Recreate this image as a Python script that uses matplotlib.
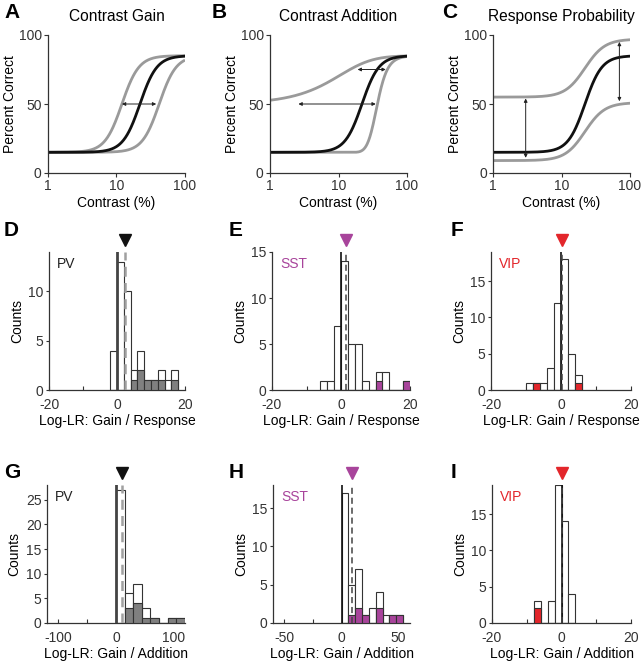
import matplotlib
matplotlib.use("Agg")
import matplotlib.pyplot as plt
import numpy as np

plt.rcParams.update({
    "font.family": ["Liberation Sans", "DejaVu Sans"],
    "font.size": 10,
    "axes.linewidth": 0.9,
    "axes.edgecolor": "#333333",
    "xtick.color": "#333333",
    "ytick.color": "#333333",
})

# ── Data: psychometric model parameters (top row) ─────────────────────────────
contrast = np.logspace(0, 2, 300)
base_black, top_black, c50_black, slope_black = 15, 85, 22, 3.5
gain_c50 = [12, 42]                 # contrast gain: shifted thresholds
addition_shift = [22, -15]          # contrast addition: added / removed contrast
resp_base = [55, 9]                 # response probability: lower asymptotes
resp_top = [97, 51]                 # response probability: upper asymptotes

# ── Data: histograms (counts per bin, coloured = highlighted subset) ─────────
d_start, d_width = -2, 2
d_counts = [4, 13, 10, 2, 4, 1, 1, 2, 1, 2]
d_sub = [0, 0, 0, 1, 2, 1, 1, 1, 0, 1]
d_median = 2.5

e_start, e_width = -6, 2
e_counts = [1, 1, 7, 14, 5, 5, 1, 0, 2, 2, 0, 0, 1]
e_sub = [0, 0, 0, 0, 0, 0, 0, 0, 1, 0, 0, 0, 1]
e_median = 1.5

f_start, f_width = -10, 2
f_counts = [1, 1, 1, 3, 12, 18, 5, 2]
f_sub = [0, 1, 0, 0, 0, 0, 0, 1]
f_median = 0.2

g_start, g_width = 0, 15
g_counts = [27, 6, 8, 3, 1, 0, 1, 1]
g_sub = [0, 3, 4, 1, 1, 0, 1, 1]
g_median = 10

h_start, h_width = 0, 6
h_counts = [17, 5, 7, 1, 2, 4, 1, 1, 1]
h_sub = [0, 1, 2, 1, 0, 2, 0, 1, 1]
h_median = 9

i_start, i_width = -8, 2
i_counts = [3, 0, 3, 19, 14, 4]
i_sub = [2, 0, 0, 0, 0, 0]
i_median = 0

PV_C, SST_C, VIP_C = "#808080", "#a8449b", "#e3262b"
GRAY = "#9a9a9a"
W, H = 642, 664


def ax_px(l, t, r, b):
    return fig.add_axes([l / W, 1 - b / H, (r - l) / W, (b - t) / H])


def psy(c, base, top, c50, n):
    c = np.clip(c, 1e-6, None)
    return base + (top - base) * c ** n / (c ** n + c50 ** n)


def style_top(ax, title):
    ax.set_xscale("log")
    ax.set_xlim(1, 100)
    ax.set_ylim(0, 100)
    ax.set_xticks([1, 10, 100])
    ax.set_xticklabels(["1", "10", "100"])
    ax.minorticks_off()
    ax.set_yticks([0, 50, 100])
    ax.tick_params(length=3, width=0.8, pad=1.5)
    for s in ["top", "right"]:
        ax.spines[s].set_visible(False)
    ax.set_xlabel("Contrast (%)", labelpad=2)
    ax.set_ylabel("Percent Correct", labelpad=1)
    ax.set_title(title, fontsize=11.2, pad=10)


def darrow(ax, x0, y0, x1, y1):
    ax.annotate("", xy=(x1, y1), xytext=(x0, y0),
                arrowprops=dict(arrowstyle="<|-|>", color="#222222", lw=0.7,
                                mutation_scale=5, shrinkA=0, shrinkB=0))


fig = plt.figure(figsize=(W / 100, H / 100), dpi=100)

# ── A: contrast gain ──────────────────────────────────────────────────────────
axA = ax_px(48, 35, 185, 173)
for c50 in gain_c50:
    axA.plot(contrast, psy(contrast, base_black, top_black, c50, slope_black),
             color=GRAY, lw=2, solid_capstyle="butt")
axA.plot(contrast, psy(contrast, base_black, top_black, c50_black, slope_black),
         color="#111111", lw=2)
darrow(axA, 12, 50, 38, 50)
style_top(axA, "Contrast Gain")

# ── B: contrast addition ──────────────────────────────────────────────────────
axB = ax_px(270, 35, 407, 173)
for sh in addition_shift:
    axB.plot(contrast, psy(contrast + sh, base_black, top_black, c50_black, slope_black),
             color=GRAY, lw=2)
axB.plot(contrast, psy(contrast, base_black, top_black, c50_black, slope_black),
         color="#111111", lw=2)
darrow(axB, 19, 75, 49, 75)
darrow(axB, 2.6, 50, 35, 50)
style_top(axB, "Contrast Addition")

# ── C: response probability ───────────────────────────────────────────────────
axC = ax_px(493, 35, 630, 173)
for b, t in zip(resp_base, resp_top):
    axC.plot(contrast, psy(contrast, b, t, c50_black, 3),
             color=GRAY, lw=2)
axC.plot(contrast, psy(contrast, base_black, top_black, c50_black, slope_black),
         color="#111111", lw=2)
darrow(axC, 3, 54, 3, 11)
darrow(axC, 70, 95, 70, 52)
style_top(axC, "Response Probability")


# ── Histograms ────────────────────────────────────────────────────────────────
def hist_panel(box, start, width, counts, sub, median, color, name,
               xlim, xticks, xlabels, ylim, yticks, xlabel, heavy):
    ax = ax_px(*box)
    left = start + width * np.arange(len(counts))
    ax.bar(left, counts, width=width, align="edge", color="white",
           edgecolor="#333333", linewidth=0.8, zorder=2)
    ax.bar(left, sub, width=width, align="edge", color=color,
           edgecolor="#333333", linewidth=0.8, zorder=3)
    if heavy:
        ax.axvline(0, color="#444444", lw=2, zorder=4)
        ax.axvline(median, color="#a0a0a0", lw=1.8, ls=(0, (4, 2.5)), zorder=5)
    else:
        ax.axvline(0, color="#111111", lw=1.2, zorder=4)
        ax.axvline(median, color="#444444", lw=1.1, ls=(0, (4, 2.5)), zorder=5)
    tri = "#111111" if color == PV_C else color
    ax.plot([median], [ylim * 1.085], marker="v", ms=9, color=tri,
            clip_on=False, zorder=6)
    ax.set_xlim(*xlim)
    ax.set_ylim(0, ylim)
    ax.set_xticks(xticks)
    ax.set_xticklabels(xlabels)
    ax.set_yticks(yticks)
    ax.tick_params(axis="x", direction="in", length=3, width=0.8, pad=6)
    ax.tick_params(axis="y", length=2.5, width=0.8, pad=1.5)
    for s in ["top", "right"]:
        ax.spines[s].set_visible(False)
    ax.text(0.06, 0.965, name, transform=ax.transAxes, ha="left", va="top",
            color="#222222" if color == PV_C else color, fontsize=10)
    ax.set_ylabel("Counts", labelpad=3)
    ax.set_xlabel(xlabel, labelpad=1.5)
    return ax


xl_r = "Log-LR: Gain / Response"
xl_a = "Log-LR: Gain / Addition"
t20 = [-20, -10, 0, 10, 20]
l20 = ["-20", "", "0", "", "20"]

hist_panel((49, 252, 185, 390), d_start, d_width, d_counts, d_sub, d_median, PV_C, "PV",
           (-20, 20), t20, l20, 14, [0, 5, 10], xl_r, True)
hist_panel((272, 252, 410, 390), e_start, e_width, e_counts, e_sub, e_median, SST_C, "SST",
           (-20, 20), t20, l20, 15, [0, 5, 10, 15], xl_r, False)
hist_panel((491, 252, 631, 390), f_start, f_width, f_counts, f_sub, f_median, VIP_C, "VIP",
           (-20, 20), t20, l20, 19, [0, 5, 10, 15], xl_r, False)
hist_panel((47, 485, 185, 623), g_start, g_width, g_counts, g_sub, g_median, PV_C, "PV",
           (-120, 120), [-100, -50, 0, 50, 100], ["-100", "", "0", "", "100"],
           28, [0, 5, 10, 15, 20, 25], xl_a, True)
hist_panel((273, 485, 410, 623), h_start, h_width, h_counts, h_sub, h_median, SST_C, "SST",
           (-60, 60), [-50, -25, 0, 25, 50], ["-50", "", "0", "", "50"],
           18, [0, 5, 10, 15], xl_a, False)
hist_panel((492, 485, 631, 623), i_start, i_width, i_counts, i_sub, i_median, VIP_C, "VIP",
           (-20, 20), t20, l20, 19, [0, 5, 10, 15], xl_a, False)

# ── Panel letters ─────────────────────────────────────────────────────────────
letters = [("A", 4, 13), ("B", 212, 13), ("C", 442, 13),
           ("D", 4, 230), ("E", 229, 230), ("F", 451, 230),
           ("G", 4, 472), ("H", 229, 472), ("I", 451, 472)]
for txt, x, y in letters:
    fig.text(x / W, 1 - y / H, txt, fontsize=15, fontweight="bold",
             ha="left", va="center")

fig.savefig("out.png", dpi=100, facecolor="white")
